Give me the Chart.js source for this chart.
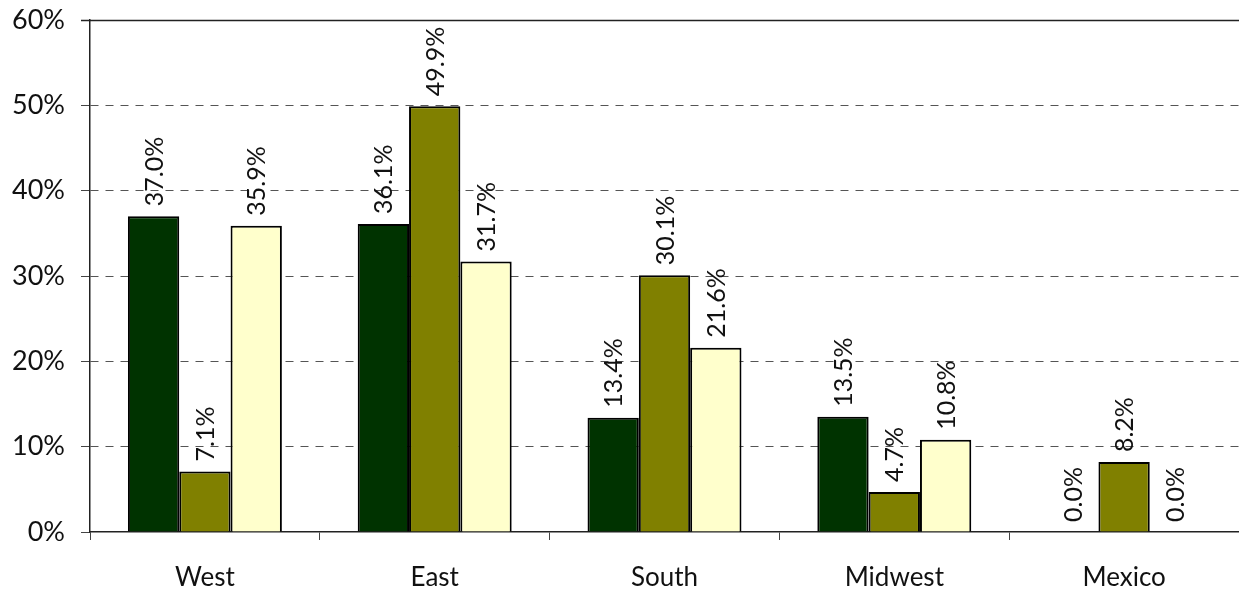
<!DOCTYPE html>
<html>
<head>
<meta charset="utf-8">
<script src="https://cdn.jsdelivr.net/npm/chart.js@4/dist/chart.umd.min.js"></script>
<style>
  html, body { margin: 0; padding: 0; background: #ffffff; }
  #wrap { width: 1239px; height: 596px; position: relative; }
</style>
</head>
<body>
<div id="wrap"><canvas id="chart"></canvas></div>
<script>
// Regions on the category axis
const regions = ['West', 'East', 'South', 'Midwest', 'Mexico'];

// Share per region for each of the three series (percent)
const seriesA = [37.0, 36.1, 13.4, 13.5, 0.0];
const seriesB = [7.1, 49.9, 30.1, 4.7, 8.2];
const seriesC = [35.9, 31.7, 21.6, 10.8, 0.0];

// Value axis ticks (percent)
const yTicks = [0, 10, 20, 30, 40, 50, 60];

const FONT = 'Lato, "Liberation Sans", sans-serif';

// Rotated value labels above each bar
const valueLabels = {
  id: 'valueLabels',
  afterDatasetsDraw(chart) {
    const ctx = chart.ctx;
    ctx.save();
    ctx.font = '25px ' + FONT;
    ctx.fillStyle = '#111';
    ctx.textAlign = 'left';
    ctx.textBaseline = 'middle';
    chart.data.datasets.forEach((ds, di) => {
      const meta = chart.getDatasetMeta(di);
      meta.data.forEach((bar, i) => {
        const v = ds.data[i];
        ctx.save();
        ctx.translate(bar.x, bar.y - 10);
        ctx.rotate(-Math.PI / 2);
        ctx.fillText(v.toFixed(1) + '%', 0, 1);
        ctx.restore();
      });
    });
    ctx.restore();
  }
};

// Solid line across the top of the plot at the axis maximum
const topLine = {
  id: 'topLine',
  beforeDatasetsDraw(chart) {
    const { ctx, chartArea, scales } = chart;
    const y = Math.round(scales.y.getPixelForValue(yTicks[yTicks.length - 1])) + 0.5;
    ctx.save();
    ctx.strokeStyle = '#222';
    ctx.lineWidth = 1.5;
    ctx.beginPath();
    ctx.moveTo(chartArea.left - 9, y);
    ctx.lineTo(chartArea.right, y);
    ctx.stroke();
    ctx.restore();
  }
};

new Chart(document.getElementById('chart'), {
  type: 'bar',
  data: {
    labels: regions,
    datasets: [
      { label: 'A', data: seriesA, backgroundColor: '#003300' },
      { label: 'B', data: seriesB, backgroundColor: '#808000' },
      { label: 'C', data: seriesC, backgroundColor: '#FFFFCC' }
    ].map(d => Object.assign(d, {
      borderColor: '#000',
      borderWidth: 2,
      borderSkipped: 'bottom',
      categoryPercentage: 0.67,
      barPercentage: 1.0
    }))
  },
  options: {
    responsive: true,
    maintainAspectRatio: false,
    animation: false,
    layout: { padding: { top: 20, right: 0, left: 0, bottom: 0 } },
    plugins: {
      legend: { display: false },
      tooltip: { enabled: false }
    },
    scales: {
      x: {
        grid: {
          offset: true,
          drawOnChartArea: false,
          drawTicks: true,
          tickLength: 8,
          color: '#444',
          lineWidth: 1
        },
        border: { color: '#222', width: 1.5 },
        ticks: {
          font: { family: FONT, size: 26 },
          color: '#111',
          padding: 22
        },
        afterFit(scale) {
          scale.height = 64;
          scale.paddingLeft = 0;
          scale.paddingRight = 0;
        }
      },
      y: {
        min: 0,
        max: 60,
        afterBuildTicks(scale) {
          scale.ticks = yTicks.map(v => ({ value: v }));
        },
        grid: {
          color: (c) => (c.tick && (c.tick.value === 0 || c.tick.value === 60)) ? 'rgba(0,0,0,0)' : '#555',
          tickColor: '#444',
          lineWidth: 1,
          drawTicks: true,
          tickLength: 9
        },
        border: { color: '#222', width: 1.5, dash: [8, 7] },
        ticks: {
          font: { family: FONT, size: 27 },
          color: '#111',
          padding: 16,
          callback: (v) => v + '%'
        },
        afterFit(scale) {
          scale.width = 90;
          scale.paddingTop = 0;
          scale.paddingBottom = 0;
        }
      }
    }
  },
  plugins: [topLine, valueLabels]
});
</script>
</body>
</html>
